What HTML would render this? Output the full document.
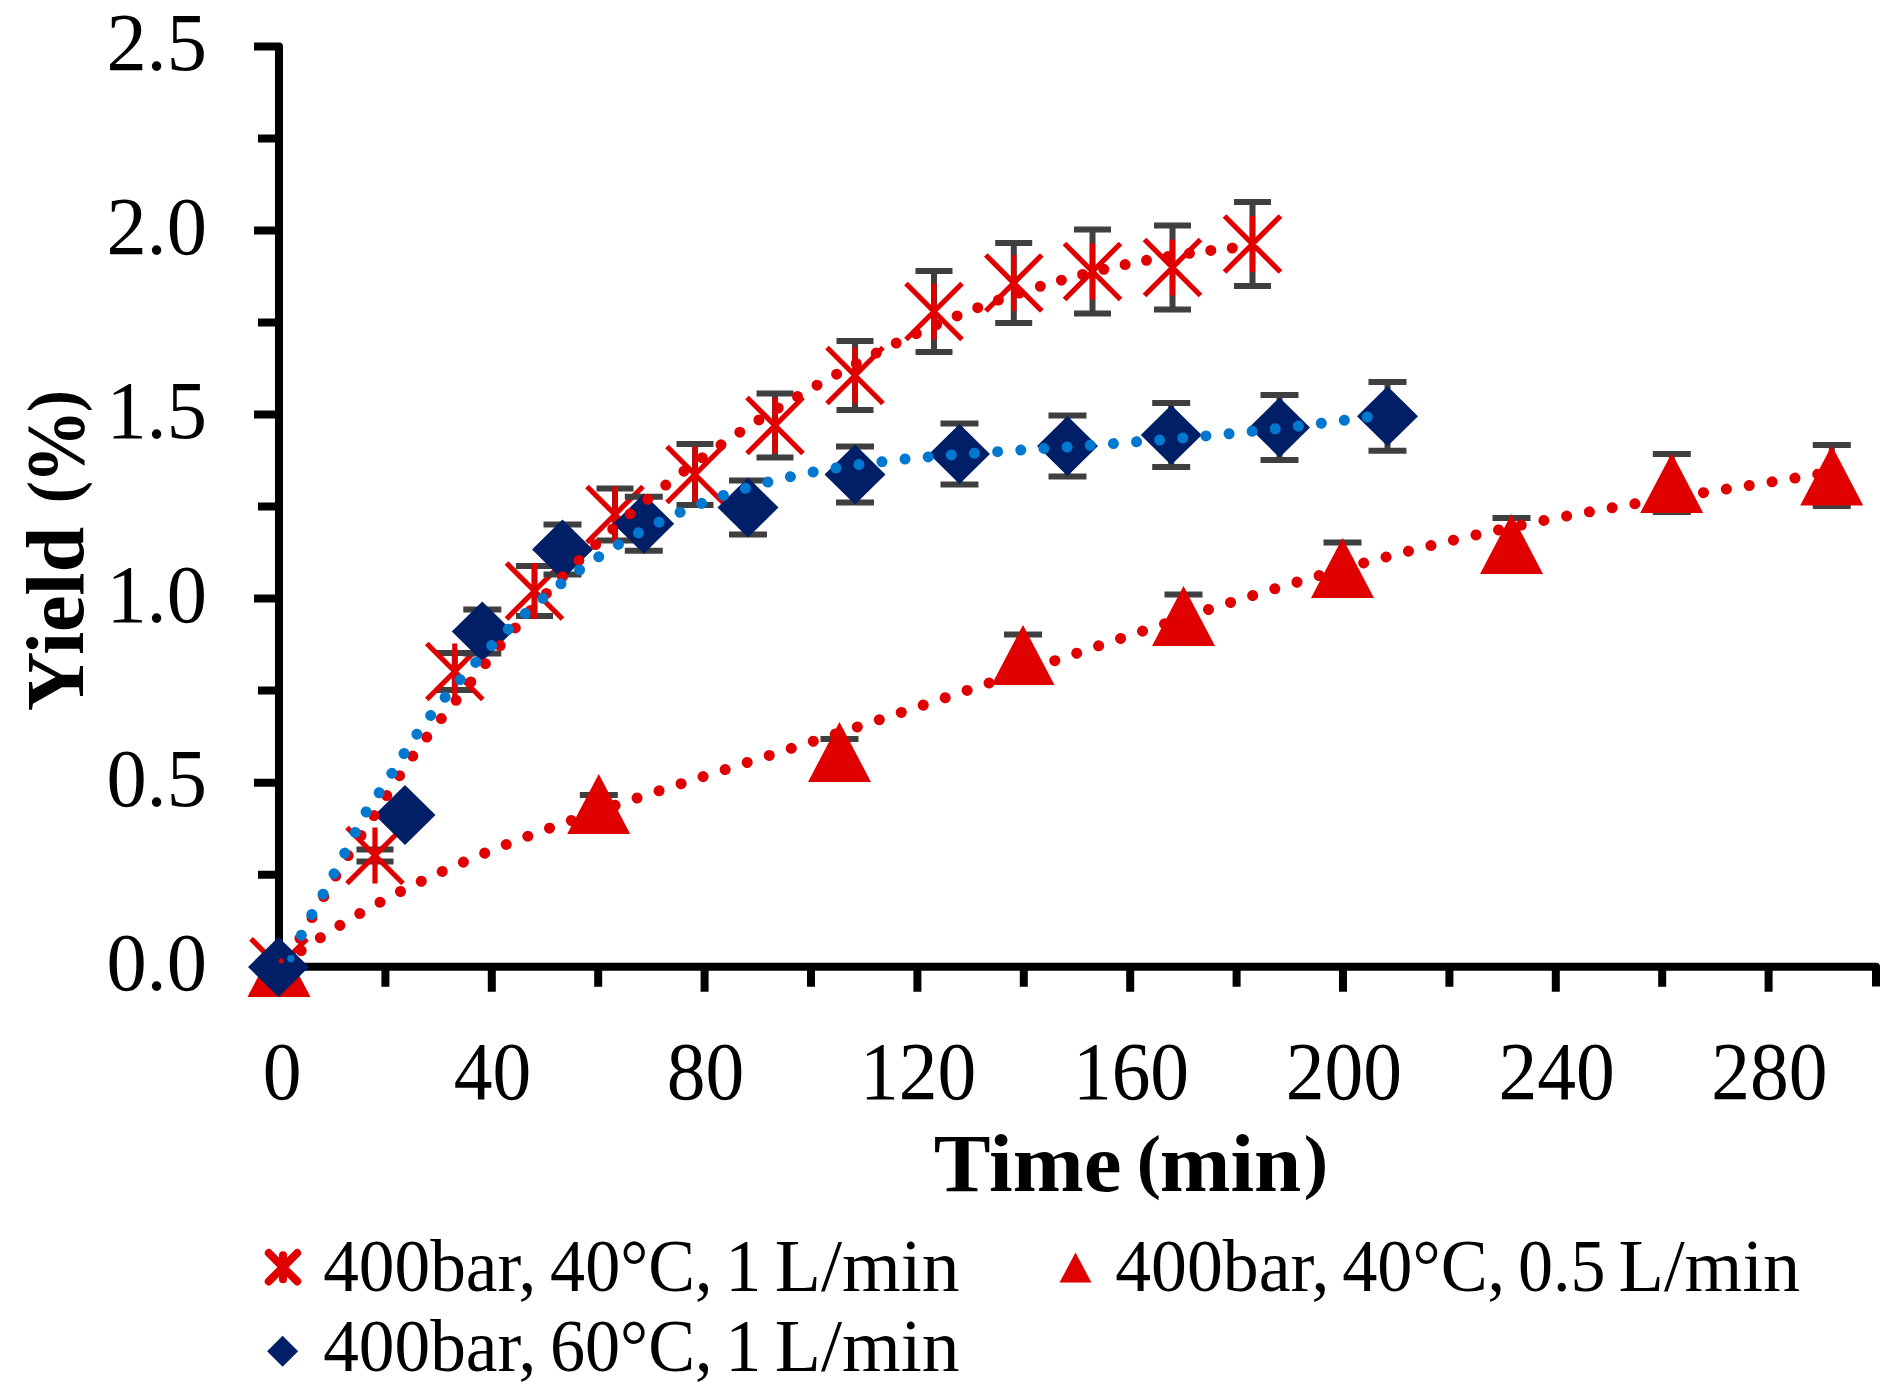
<!DOCTYPE html>
<html><head><meta charset="utf-8"><title>Yield vs Time</title>
<style>html,body{margin:0;padding:0;background:#fff}svg{display:block}</style></head>
<body>
<svg width="1904" height="1397" viewBox="0 0 1904 1397">
<rect width="1904" height="1397" fill="#fff"/>
<path d="M254 46.4 H279 V966.8 H1876 V986.5 M254 966.8 H279 M258 874.8 H279 M254 782.7 H279 M258 690.6 H279 M254 598.6 H279 M258 506.5 H279 M254 414.5 H279 M258 322.4 H279 M254 230.4 H279 M258 138.4 H279 M385.4 966.8 V986.8 M491.8 966.8 V991.8 M598.2 966.8 V986.8 M704.6 966.8 V991.8 M811.0 966.8 V986.8 M917.4 966.8 V991.8 M1023.8 966.8 V986.8 M1130.2 966.8 V991.8 M1236.6 966.8 V986.8 M1343.0 966.8 V991.8 M1449.4 966.8 V986.8 M1555.8 966.8 V991.8 M1662.2 966.8 V986.8 M1768.6 966.8 V991.8" fill="none" stroke="#000" stroke-width="8" stroke-linejoin="round"/>
<path d="M375.0 849.5 V861.5 M356.5 849.5 h37 M356.5 861.5 h37 M454.8 653.0 V690.0 M436.3 653.0 h37 M436.3 690.0 h37 M534.5 566.0 V616.0 M516.0 566.0 h37 M516.0 616.0 h37 M615.0 488.5 V540.5 M596.5 488.5 h37 M596.5 540.5 h37 M695.0 443.9 V505.1 M676.5 443.9 h37 M676.5 505.1 h37 M775.0 393.5 V457.5 M756.5 393.5 h37 M756.5 457.5 h37 M855.0 341.0 V410.0 M836.5 341.0 h37 M836.5 410.0 h37 M934.0 271.0 V352.0 M915.5 271.0 h37 M915.5 352.0 h37 M1013.8 243.0 V323.0 M995.2 243.0 h37 M995.2 323.0 h37 M1092.5 229.5 V313.5 M1074.0 229.5 h37 M1074.0 313.5 h37 M1172.5 225.5 V309.5 M1154.0 225.5 h37 M1154.0 309.5 h37 M1252.5 202.0 V286.0 M1234.0 202.0 h37 M1234.0 286.0 h37" fill="none" stroke="#3f3f3f" stroke-width="6"/>
<path d="M251.0 938.8 L307.0 994.8 M307.0 938.8 L251.0 994.8 M279.0 938.8 V994.8 M347.0 827.5 L403.0 883.5 M403.0 827.5 L347.0 883.5 M375.0 827.5 V883.5 M426.8 643.5 L482.8 699.5 M482.8 643.5 L426.8 699.5 M454.8 643.5 V699.5 M506.5 563.0 L562.5 619.0 M562.5 563.0 L506.5 619.0 M534.5 563.0 V619.0 M587.0 486.5 L643.0 542.5 M643.0 486.5 L587.0 542.5 M615.0 486.5 V542.5 M667.0 446.5 L723.0 502.5 M723.0 446.5 L667.0 502.5 M695.0 446.5 V502.5 M747.0 397.5 L803.0 453.5 M803.0 397.5 L747.0 453.5 M775.0 397.5 V453.5 M827.0 347.5 L883.0 403.5 M883.0 347.5 L827.0 403.5 M855.0 347.5 V403.5 M906.0 283.5 L962.0 339.5 M962.0 283.5 L906.0 339.5 M934.0 283.5 V339.5 M985.8 255.0 L1041.8 311.0 M1041.8 255.0 L985.8 311.0 M1013.8 255.0 V311.0 M1064.5 243.5 L1120.5 299.5 M1120.5 243.5 L1064.5 299.5 M1092.5 243.5 V299.5 M1144.5 239.5 L1200.5 295.5 M1200.5 239.5 L1144.5 295.5 M1172.5 239.5 V295.5 M1224.5 216.0 L1280.5 272.0 M1280.5 216.0 L1224.5 272.0 M1252.5 216.0 V272.0" fill="none" stroke="#e00000" stroke-width="5.2"/>
<path d="M598.8 795.0 V813.0 M579.8 795.0 h38 M579.8 813.0 h38 M839.5 739.0 V765.0 M820.5 739.0 h38 M820.5 765.0 h38 M1023.0 634.5 V675.5 M1004.0 634.5 h38 M1004.0 675.5 h38 M1183.5 594.5 V637.5 M1164.5 594.5 h38 M1164.5 637.5 h38 M1342.5 542.5 V593.5 M1323.5 542.5 h38 M1323.5 593.5 h38 M1511.5 518.0 V570.0 M1492.5 518.0 h38 M1492.5 570.0 h38 M1671.8 454.0 V512.0 M1652.8 454.0 h38 M1652.8 512.0 h38 M1831.8 445.0 V506.0 M1812.8 445.0 h38 M1812.8 506.0 h38" fill="none" stroke="#3f3f3f" stroke-width="6"/>
<path d="M279.0 937.0 L310.5 997.0 H247.5 Z M598.8 774.0 L630.2 834.0 H567.2 Z M839.5 722.0 L871.0 782.0 H808.0 Z M1023.0 625.0 L1054.5 685.0 H991.5 Z M1183.5 586.0 L1215.0 646.0 H1152.0 Z M1342.5 538.0 L1374.0 598.0 H1311.0 Z M1511.5 514.0 L1543.0 574.0 H1480.0 Z M1671.8 453.0 L1703.2 513.0 H1640.2 Z M1831.8 445.5 L1863.2 505.5 H1800.2 Z" fill="#e00000"/>
<path d="M482.3 609.5 V653.5 M463.3 609.5 h38 M463.3 653.5 h38 M562.5 524.5 V574.5 M543.5 524.5 h38 M543.5 574.5 h38 M643.8 496.8 V550.8 M624.8 496.8 h38 M624.8 550.8 h38 M748.0 480.5 V534.5 M729.0 480.5 h38 M729.0 534.5 h38 M855.0 446.5 V502.5 M836.0 446.5 h38 M836.0 502.5 h38 M959.5 423.5 V484.5 M940.5 423.5 h38 M940.5 484.5 h38 M1067.5 415.4 V476.6 M1048.5 415.4 h38 M1048.5 476.6 h38 M1171.2 403.0 V467.0 M1152.2 403.0 h38 M1152.2 467.0 h38 M1279.5 395.0 V460.0 M1260.5 395.0 h38 M1260.5 460.0 h38 M1387.5 381.9 V450.7 M1368.5 381.9 h38 M1368.5 450.7 h38" fill="none" stroke="#3f3f3f" stroke-width="6"/>
<path d="M278.5 937.0 L309.0 967.0 L278.5 997.0 L248.0 967.0 Z M405.0 785.0 L435.5 815.0 L405.0 845.0 L374.5 815.0 Z M482.3 601.5 L512.8 631.5 L482.3 661.5 L451.8 631.5 Z M562.5 519.5 L593.0 549.5 L562.5 579.5 L532.0 549.5 Z M643.8 493.8 L674.2 523.8 L643.8 553.8 L613.2 523.8 Z M748.0 477.5 L778.5 507.5 L748.0 537.5 L717.5 507.5 Z M855.0 444.5 L885.5 474.5 L855.0 504.5 L824.5 474.5 Z M959.5 424.0 L990.0 454.0 L959.5 484.0 L929.0 454.0 Z M1067.5 416.0 L1098.0 446.0 L1067.5 476.0 L1037.0 446.0 Z M1171.2 405.0 L1201.8 435.0 L1171.2 465.0 L1140.8 435.0 Z M1279.5 397.5 L1310.0 427.5 L1279.5 457.5 L1249.0 427.5 Z M1387.5 386.3 L1418.0 416.3 L1387.5 446.3 L1357.0 416.3 Z" fill="#001f66"/>
<path d="M299.9 938.3h0.01 M312.0 917.5h0.01 M323.7 896.6h0.01 M335.7 876.0h0.01 M348.2 855.6h0.01 M361.0 835.5h0.01 M374.0 815.6h0.01 M386.8 795.6h0.01 M399.6 775.7h0.01 M412.8 756.1h0.01 M426.8 737.1h0.01 M441.3 718.6h0.01 M456.1 700.3h0.01 M470.8 682.0h0.01 M485.4 663.7h0.01 M500.2 645.6h0.01 M515.3 627.9h0.01 M530.7 610.4h0.01 M546.4 593.4h0.01 M562.5 576.7h0.01 M578.9 560.4h0.01 M595.6 544.5h0.01 M612.7 529.0h0.01 M630.1 513.9h0.01 M647.7 499.3h0.01 M665.7 485.1h0.01 M683.9 471.2h0.01 M702.3 457.8h0.01 M721.0 444.8h0.01 M739.8 432.2h0.01 M758.9 419.9h0.01 M778.2 408.0h0.01 M797.5 396.5h0.01 M817.0 385.2h0.01 M836.6 374.2h0.01 M856.3 363.5h0.01 M876.2 353.1h0.01 M896.2 343.1h0.01 M916.3 333.6h0.01 M936.6 324.5h0.01 M957.1 315.9h0.01 M977.7 307.7h0.01 M998.4 300.1h0.01 M1019.3 293.0h0.01 M1040.3 286.3h0.01 M1061.4 280.2h0.01 M1082.6 274.5h0.01 M1103.8 269.3h0.01 M1125.1 264.6h0.01 M1146.5 260.3h0.01 M1167.9 256.6h0.01 M1189.4 253.3h0.01 M1210.8 250.4h0.01 M1232.3 248.0h0.01" stroke="#e00000" stroke-width="11" stroke-linecap="round" fill="none"/>
<path d="M291.7 957.4 L293.7 956.0 L295.7 954.5 L297.7 953.1 L299.7 951.7 L301.7 950.3 L303.7 948.9 L305.7 947.6 L307.7 946.2 L309.7 944.8 L311.7 943.5 L313.7 942.1 L315.7 940.8 L317.7 939.5 L319.7 938.2 L321.7 936.8 L323.7 935.5 L325.7 934.3 L327.7 933.0 L329.7 931.7 L331.7 930.4 L333.7 929.2 L335.7 927.9 L337.7 926.7 L339.7 925.5 L341.7 924.2 L343.7 923.0 L345.7 921.8 L347.7 920.6 L349.7 919.4 L351.7 918.2 L353.7 917.1 L355.7 915.9 L357.7 914.7 L359.7 913.6 L361.7 912.4 L363.7 911.3 L365.7 910.1 L367.7 909.0 L369.7 907.9 L371.7 906.8 L373.7 905.7 L375.7 904.6 L377.7 903.5 L379.7 902.4 L381.7 901.3 L383.7 900.3 L385.7 899.2 L387.7 898.1 L389.7 897.1 L391.7 896.0 L393.7 895.0 L395.7 893.9 L397.7 892.9 L399.7 891.9 L401.7 890.9 L403.7 889.9 L405.7 888.9 L407.7 887.9 L409.7 886.9 L411.7 885.9 L413.7 884.9 L415.7 883.9 L417.7 882.9 L419.7 882.0 L421.7 881.0 L423.7 880.1 L425.7 879.1 L427.7 878.2 L429.7 877.2 L431.7 876.3 L433.7 875.4 L435.7 874.4 L437.7 873.5 L439.7 872.6 L441.7 871.7 L443.7 870.8 L445.7 869.9 L447.7 869.0 L449.7 868.1 L451.7 867.2 L453.7 866.3 L455.7 865.4 L457.7 864.6 L459.7 863.7 L461.7 862.8 L463.7 862.0 L465.7 861.1 L467.7 860.2 L469.7 859.4 L471.7 858.6 L473.7 857.7 L475.7 856.9 L477.7 856.0 L479.7 855.2 L481.7 854.4 L483.7 853.6 L485.7 852.7 L487.7 851.9 L489.7 851.1 L491.7 850.3 L493.7 849.5 L495.7 848.7 L497.7 847.9 L499.7 847.1 L501.7 846.3 L503.7 845.5 L505.7 844.7 L507.7 843.9 L509.7 843.2 L511.7 842.4 L513.7 841.6 L515.7 840.8 L517.7 840.1 L519.7 839.3 L521.7 838.5 L523.7 837.8 L525.7 837.0 L527.7 836.3 L529.7 835.5 L531.7 834.8 L533.7 834.0 L535.7 833.3 L537.7 832.5 L539.7 831.8 L541.7 831.1 L543.7 830.3 L545.7 829.6 L547.7 828.9 L549.7 828.1 L551.7 827.4 L553.7 826.7 L555.7 826.0 L557.7 825.2 L559.7 824.5 L561.7 823.8 L563.7 823.1 L565.7 822.4 L567.7 821.7 L569.7 821.0 L571.7 820.3 L573.7 819.6 L575.7 818.9 L577.7 818.2 L579.7 817.5 L581.7 816.8 L583.7 816.1 L585.7 815.4 L587.7 814.7 L589.7 814.0 L591.7 813.3 L593.7 812.6 L595.7 811.9 L597.7 811.3 L599.7 810.6 L601.7 809.9 L603.7 809.2 L605.7 808.5 L607.7 807.9 L609.7 807.2 L611.7 806.5 L613.7 805.8 L615.7 805.2 L617.7 804.5 L619.7 803.8 L621.7 803.2 L623.7 802.5 L625.7 801.8 L627.7 801.2 L629.7 800.5 L631.7 799.8 L633.7 799.2 L635.7 798.5 L637.7 797.8 L639.7 797.2 L641.7 796.5 L643.7 795.9 L645.7 795.2 L647.7 794.6 L649.7 793.9 L651.7 793.2 L653.7 792.6 L655.7 791.9 L657.7 791.3 L659.7 790.6 L661.7 790.0 L663.7 789.3 L665.7 788.7 L667.7 788.0 L669.7 787.4 L671.7 786.7 L673.7 786.1 L675.7 785.4 L677.7 784.8 L679.7 784.2 L681.7 783.5 L683.7 782.9 L685.7 782.2 L687.7 781.6 L689.7 780.9 L691.7 780.3 L693.7 779.6 L695.7 779.0 L697.7 778.4 L699.7 777.7 L701.7 777.1 L703.7 776.4 L705.7 775.8 L707.7 775.1 L709.7 774.5 L711.7 773.9 L713.7 773.2 L715.7 772.6 L717.7 771.9 L719.7 771.3 L721.7 770.7 L723.7 770.0 L725.7 769.4 L727.7 768.7 L729.7 768.1 L731.7 767.5 L733.7 766.8 L735.7 766.2 L737.7 765.5 L739.7 764.9 L741.7 764.3 L743.7 763.6 L745.7 763.0 L747.7 762.3 L749.7 761.7 L751.7 761.1 L753.7 760.4 L755.7 759.8 L757.7 759.1 L759.7 758.5 L761.7 757.9 L763.7 757.2 L765.7 756.6 L767.7 755.9 L769.7 755.3 L771.7 754.6 L773.7 754.0 L775.7 753.4 L777.7 752.7 L779.7 752.1 L781.7 751.4 L783.7 750.8 L785.7 750.1 L787.7 749.5 L789.7 748.9 L791.7 748.2 L793.7 747.6 L795.7 746.9 L797.7 746.3 L799.7 745.6 L801.7 745.0 L803.7 744.3 L805.7 743.7 L807.7 743.1 L809.7 742.4 L811.7 741.8 L813.7 741.1 L815.7 740.5 L817.7 739.8 L819.7 739.2 L821.7 738.5 L823.7 737.9 L825.7 737.2 L827.7 736.6 L829.7 735.9 L831.7 735.3 L833.7 734.6 L835.7 734.0 L837.7 733.3 L839.7 732.7 L841.7 732.0 L843.7 731.4 L845.7 730.7 L847.7 730.1 L849.7 729.4 L851.7 728.8 L853.7 728.1 L855.7 727.4 L857.7 726.8 L859.7 726.1 L861.7 725.5 L863.7 724.8 L865.7 724.2 L867.7 723.5 L869.7 722.9 L871.7 722.2 L873.7 721.5 L875.7 720.9 L877.7 720.2 L879.7 719.6 L881.7 718.9 L883.7 718.2 L885.7 717.6 L887.7 716.9 L889.7 716.3 L891.7 715.6 L893.7 714.9 L895.7 714.3 L897.7 713.6 L899.7 712.9 L901.7 712.3 L903.7 711.6 L905.7 711.0 L907.7 710.3 L909.7 709.6 L911.7 709.0 L913.7 708.3 L915.7 707.6 L917.7 707.0 L919.7 706.3 L921.7 705.6 L923.7 705.0 L925.7 704.3 L927.7 703.6 L929.7 703.0 L931.7 702.3 L933.7 701.6 L935.7 700.9 L937.7 700.3 L939.7 699.6 L941.7 698.9 L943.7 698.3 L945.7 697.6 L947.7 696.9 L949.7 696.2 L951.7 695.6 L953.7 694.9 L955.7 694.2 L957.7 693.6 L959.7 692.9 L961.7 692.2 L963.7 691.5 L965.7 690.9 L967.7 690.2 L969.7 689.5 L971.7 688.8 L973.7 688.2 L975.7 687.5 L977.7 686.8 L979.7 686.1 L981.7 685.5 L983.7 684.8 L985.7 684.1 L987.7 683.4 L989.7 682.8 L991.7 682.1 L993.7 681.4 L995.7 680.7 L997.7 680.0 L999.7 679.4 L1001.7 678.7 L1003.7 678.0 L1005.7 677.3 L1007.7 676.7 L1009.7 676.0 L1011.7 675.3 L1013.7 674.6 L1015.7 673.9 L1017.7 673.3 L1019.7 672.6 L1021.7 671.9 L1023.7 671.2 L1025.7 670.5 L1027.7 669.9 L1029.7 669.2 L1031.7 668.5 L1033.7 667.8 L1035.7 667.1 L1037.7 666.5 L1039.7 665.8 L1041.7 665.1 L1043.7 664.4 L1045.7 663.8 L1047.7 663.1 L1049.7 662.4 L1051.7 661.7 L1053.7 661.0 L1055.7 660.4 L1057.7 659.7 L1059.7 659.0 L1061.7 658.3 L1063.7 657.6 L1065.7 657.0 L1067.7 656.3 L1069.7 655.6 L1071.7 654.9 L1073.7 654.3 L1075.7 653.6 L1077.7 652.9 L1079.7 652.2 L1081.7 651.5 L1083.7 650.9 L1085.7 650.2 L1087.7 649.5 L1089.7 648.8 L1091.7 648.2 L1093.7 647.5 L1095.7 646.8 L1097.7 646.1 L1099.7 645.5 L1101.7 644.8 L1103.7 644.1 L1105.7 643.4 L1107.7 642.8 L1109.7 642.1 L1111.7 641.4 L1113.7 640.8 L1115.7 640.1 L1117.7 639.4 L1119.7 638.7 L1121.7 638.1 L1123.7 637.4 L1125.7 636.7 L1127.7 636.1 L1129.7 635.4 L1131.7 634.7 L1133.7 634.1 L1135.7 633.4 L1137.7 632.7 L1139.7 632.1 L1141.7 631.4 L1143.7 630.7 L1145.7 630.1 L1147.7 629.4 L1149.7 628.7 L1151.7 628.1 L1153.7 627.4 L1155.7 626.7 L1157.7 626.1 L1159.7 625.4 L1161.7 624.8 L1163.7 624.1 L1165.7 623.4 L1167.7 622.8 L1169.7 622.1 L1171.7 621.5 L1173.7 620.8 L1175.7 620.2 L1177.7 619.5 L1179.7 618.8 L1181.7 618.2 L1183.7 617.5 L1185.7 616.9 L1187.7 616.2 L1189.7 615.6 L1191.7 614.9 L1193.7 614.3 L1195.7 613.6 L1197.7 613.0 L1199.7 612.3 L1201.7 611.7 L1203.7 611.1 L1205.7 610.4 L1207.7 609.8 L1209.7 609.1 L1211.7 608.5 L1213.7 607.8 L1215.7 607.2 L1217.7 606.6 L1219.7 605.9 L1221.7 605.3 L1223.7 604.6 L1225.7 604.0 L1227.7 603.4 L1229.7 602.7 L1231.7 602.1 L1233.7 601.5 L1235.7 600.9 L1237.7 600.2 L1239.7 599.6 L1241.7 599.0 L1243.7 598.3 L1245.7 597.7 L1247.7 597.1 L1249.7 596.5 L1251.7 595.9 L1253.7 595.2 L1255.7 594.6 L1257.7 594.0 L1259.7 593.4 L1261.7 592.8 L1263.7 592.1 L1265.7 591.5 L1267.7 590.9 L1269.7 590.3 L1271.7 589.7 L1273.7 589.1 L1275.7 588.5 L1277.7 587.9 L1279.7 587.3 L1281.7 586.7 L1283.7 586.1 L1285.7 585.5 L1287.7 584.9 L1289.7 584.3 L1291.7 583.7 L1293.7 583.1 L1295.7 582.5 L1297.7 581.9 L1299.7 581.3 L1301.7 580.7 L1303.7 580.1 L1305.7 579.5 L1307.7 578.9 L1309.7 578.3 L1311.7 577.8 L1313.7 577.2 L1315.7 576.6 L1317.7 576.0 L1319.7 575.4 L1321.7 574.8 L1323.7 574.3 L1325.7 573.7 L1327.7 573.1 L1329.7 572.5 L1331.7 572.0 L1333.7 571.4 L1335.7 570.8 L1337.7 570.3 L1339.7 569.7 L1341.7 569.1 L1343.7 568.6 L1345.7 568.0 L1347.7 567.5 L1349.7 566.9 L1351.7 566.4 L1353.7 565.8 L1355.7 565.2 L1357.7 564.7 L1359.7 564.1 L1361.7 563.6 L1363.7 563.0 L1365.7 562.5 L1367.7 562.0 L1369.7 561.4 L1371.7 560.9 L1373.7 560.3 L1375.7 559.8 L1377.7 559.3 L1379.7 558.7 L1381.7 558.2 L1383.7 557.7 L1385.7 557.1 L1387.7 556.6 L1389.7 556.1 L1391.7 555.6 L1393.7 555.0 L1395.7 554.5 L1397.7 554.0 L1399.7 553.5 L1401.7 553.0 L1403.7 552.4 L1405.7 551.9 L1407.7 551.4 L1409.7 550.9 L1411.7 550.4 L1413.7 549.9 L1415.7 549.4 L1417.7 548.9 L1419.7 548.4 L1421.7 547.9 L1423.7 547.4 L1425.7 546.9 L1427.7 546.4 L1429.7 545.9 L1431.7 545.4 L1433.7 544.9 L1435.7 544.4 L1437.7 543.9 L1439.7 543.5 L1441.7 543.0 L1443.7 542.5 L1445.7 542.0 L1447.7 541.5 L1449.7 541.0 L1451.7 540.6 L1453.7 540.1 L1455.7 539.6 L1457.7 539.2 L1459.7 538.7 L1461.7 538.2 L1463.7 537.8 L1465.7 537.3 L1467.7 536.8 L1469.7 536.4 L1471.7 535.9 L1473.7 535.5 L1475.7 535.0 L1477.7 534.6 L1479.7 534.1 L1481.7 533.7 L1483.7 533.2 L1485.7 532.8 L1487.7 532.3 L1489.7 531.9 L1491.7 531.4 L1493.7 531.0 L1495.7 530.6 L1497.7 530.1 L1499.7 529.7 L1501.7 529.2 L1503.7 528.8 L1505.7 528.4 L1507.7 528.0 L1509.7 527.5 L1511.7 527.1 L1513.7 526.7 L1515.7 526.3 L1517.7 525.8 L1519.7 525.4 L1521.7 525.0 L1523.7 524.6 L1525.7 524.2 L1527.7 523.8 L1529.7 523.4 L1531.7 523.0 L1533.7 522.5 L1535.7 522.1 L1537.7 521.7 L1539.7 521.3 L1541.7 520.9 L1543.7 520.5 L1545.7 520.1 L1547.7 519.7 L1549.7 519.3 L1551.7 519.0 L1553.7 518.6 L1555.7 518.2 L1557.7 517.8 L1559.7 517.4 L1561.7 517.0 L1563.7 516.6 L1565.7 516.2 L1567.7 515.9 L1569.7 515.5 L1571.7 515.1 L1573.7 514.7 L1575.7 514.4 L1577.7 514.0 L1579.7 513.6 L1581.7 513.2 L1583.7 512.9 L1585.7 512.5 L1587.7 512.1 L1589.7 511.8 L1591.7 511.4 L1593.7 511.0 L1595.7 510.7 L1597.7 510.3 L1599.7 510.0 L1601.7 509.6 L1603.7 509.2 L1605.7 508.9 L1607.7 508.5 L1609.7 508.2 L1611.7 507.8 L1613.7 507.5 L1615.7 507.1 L1617.7 506.8 L1619.7 506.4 L1621.7 506.1 L1623.7 505.7 L1625.7 505.4 L1627.7 505.0 L1629.7 504.7 L1631.7 504.4 L1633.7 504.0 L1635.7 503.7 L1637.7 503.3 L1639.7 503.0 L1641.7 502.7 L1643.7 502.3 L1645.7 502.0 L1647.7 501.7 L1649.7 501.3 L1651.7 501.0 L1653.7 500.7 L1655.7 500.4 L1657.7 500.0 L1659.7 499.7 L1661.7 499.4 L1663.7 499.0 L1665.7 498.7 L1667.7 498.4 L1669.7 498.1 L1671.7 497.7 L1673.7 497.4 L1675.7 497.1 L1677.7 496.8 L1679.7 496.5 L1681.7 496.1 L1683.7 495.8 L1685.7 495.5 L1687.7 495.2 L1689.7 494.9 L1691.7 494.5 L1693.7 494.2 L1695.7 493.9 L1697.7 493.6 L1699.7 493.3 L1701.7 493.0 L1703.7 492.6 L1705.7 492.3 L1707.7 492.0 L1709.7 491.7 L1711.7 491.4 L1713.7 491.1 L1715.7 490.8 L1717.7 490.4 L1719.7 490.1 L1721.7 489.8 L1723.7 489.5 L1725.7 489.2 L1727.7 488.9 L1729.7 488.6 L1731.7 488.2 L1733.7 487.9 L1735.7 487.6 L1737.7 487.3 L1739.7 487.0 L1741.7 486.7 L1743.7 486.3 L1745.7 486.0 L1747.7 485.7 L1749.7 485.4 L1751.7 485.1 L1753.7 484.8 L1755.7 484.4 L1757.7 484.1 L1759.7 483.8 L1761.7 483.5 L1763.7 483.2 L1765.7 482.9 L1767.7 482.5 L1769.7 482.2 L1771.7 481.9 L1773.7 481.6 L1775.7 481.2 L1777.7 480.9 L1779.7 480.6 L1781.7 480.3 L1783.7 479.9 L1785.7 479.6 L1787.7 479.3 L1789.7 478.9 L1791.7 478.6 L1793.7 478.3 L1795.7 478.0 L1797.7 477.6 L1799.7 477.3 L1801.7 476.9 L1803.7 476.6 L1805.7 476.3 L1807.7 475.9 L1809.7 475.6 L1811.7 475.2 L1813.7 474.9 L1815.7 474.5 L1817.7 474.2 L1819.7 473.8 L1821.7 473.5 L1823.7 473.1 L1825.7 472.8 L1827.7 472.4 L1829.7 472.1 L1831.7 471.7" stroke="#e00000" stroke-width="11" stroke-linecap="round" stroke-dasharray="0.01 23.14" stroke-dashoffset="11.57" fill="none"/>
<path d="M296.5 945.8 L298.5 941.4 L300.5 937.0 L302.5 932.8 L304.5 928.7 L306.5 924.7 L308.5 920.8 L310.5 917.1 L312.5 913.3 L314.5 909.7 L316.5 906.0 L318.5 902.4 L320.5 898.8 L322.5 895.2 L324.5 891.5 L326.5 887.9 L328.5 884.2 L330.5 880.4 L332.5 876.7 L334.5 872.9 L336.5 869.0 L338.5 865.2 L340.5 861.4 L342.5 857.5 L344.5 853.6 L346.5 849.7 L348.5 845.8 L350.5 841.8 L352.5 837.9 L354.5 834.0 L356.5 830.0 L358.5 826.1 L360.5 822.2 L362.5 818.4 L364.5 814.7 L366.5 811.2 L368.5 808.0 L370.5 804.9 L372.5 802.0 L374.5 799.2 L376.5 796.4 L378.5 793.6 L380.5 790.8 L382.5 787.9 L384.5 784.9 L386.5 781.8 L388.5 778.7 L390.5 775.5 L392.5 772.2 L394.5 769.0 L396.5 765.7 L398.5 762.5 L400.5 759.2 L402.5 756.0 L404.5 752.8 L406.5 749.7 L408.5 746.6 L410.5 743.6 L412.5 740.6 L414.5 737.7 L416.5 734.8 L418.5 731.9 L420.5 729.1 L422.5 726.4 L424.5 723.6 L426.5 720.9 L428.5 718.3 L430.5 715.7 L432.5 713.1 L434.5 710.5 L436.5 708.0 L438.5 705.5 L440.5 703.0 L442.5 700.6 L444.5 698.1 L446.5 695.7 L448.5 693.3 L450.5 690.9 L452.5 688.6 L454.5 686.2 L456.5 683.9 L458.5 681.6 L460.5 679.3 L462.5 677.0 L464.5 674.8 L466.5 672.5 L468.5 670.3 L470.5 668.1 L472.5 665.9 L474.5 663.7 L476.5 661.5 L478.5 659.4 L480.5 657.2 L482.5 655.1 L484.5 653.0 L486.5 650.9 L488.5 648.9 L490.5 646.8 L492.5 644.8 L494.5 642.8 L496.5 640.7 L498.5 638.8 L500.5 636.8 L502.5 634.8 L504.5 632.9 L506.5 630.9 L508.5 629.0 L510.5 627.1 L512.5 625.2 L514.5 623.3 L516.5 621.5 L518.5 619.6 L520.5 617.8 L522.5 616.0 L524.5 614.2 L526.5 612.4 L528.5 610.6 L530.5 608.9 L532.5 607.1 L534.5 605.4 L536.5 603.7 L538.5 602.0 L540.5 600.3 L542.5 598.6 L544.5 596.9 L546.5 595.3 L548.5 593.7 L550.5 592.0 L552.5 590.4 L554.5 588.8 L556.5 587.2 L558.5 585.7 L560.5 584.1 L562.5 582.6 L564.5 581.0 L566.5 579.5 L568.5 578.0 L570.5 576.5 L572.5 575.0 L574.5 573.6 L576.5 572.1 L578.5 570.7 L580.5 569.2 L582.5 567.8 L584.5 566.4 L586.5 565.0 L588.5 563.6 L590.5 562.2 L592.5 560.9 L594.5 559.5 L596.5 558.2 L598.5 556.9 L600.5 555.6 L602.5 554.3 L604.5 553.0 L606.5 551.7 L608.5 550.4 L610.5 549.2 L612.5 547.9 L614.5 546.7 L616.5 545.5 L618.5 544.3 L620.5 543.1 L622.5 541.9 L624.5 540.7 L626.5 539.5 L628.5 538.4 L630.5 537.2 L632.5 536.1 L634.5 535.0 L636.5 533.9 L638.5 532.8 L640.5 531.7 L642.5 530.6 L644.5 529.5 L646.5 528.5 L648.5 527.4 L650.5 526.4 L652.5 525.4 L654.5 524.4 L656.5 523.4 L658.5 522.4 L660.5 521.4 L662.5 520.4 L664.5 519.5 L666.5 518.5 L668.5 517.6 L670.5 516.6 L672.5 515.7 L674.5 514.8 L676.5 513.9 L678.5 513.0 L680.5 512.1 L682.5 511.2 L684.5 510.4 L686.5 509.5 L688.5 508.7 L690.5 507.8 L692.5 507.0 L694.5 506.2 L696.5 505.4 L698.5 504.6 L700.5 503.8 L702.5 503.0 L704.5 502.2 L706.5 501.5 L708.5 500.7 L710.5 500.0 L712.5 499.2 L714.5 498.5 L716.5 497.8 L718.5 497.1 L720.5 496.4 L722.5 495.7 L724.5 495.0 L726.5 494.3 L728.5 493.6 L730.5 493.0 L732.5 492.3 L734.5 491.7 L736.5 491.1 L738.5 490.4 L740.5 489.8 L742.5 489.2 L744.5 488.6 L746.5 488.0 L748.5 487.4 L750.5 486.8 L752.5 486.2 L754.5 485.7 L756.5 485.1 L758.5 484.6 L760.5 484.0 L762.5 483.5 L764.5 483.0 L766.5 482.4 L768.5 481.9 L770.5 481.4 L772.5 480.9 L774.5 480.4 L776.5 479.9 L778.5 479.4 L780.5 478.9 L782.5 478.5 L784.5 478.0 L786.5 477.6 L788.5 477.1 L790.5 476.7 L792.5 476.2 L794.5 475.8 L796.5 475.4 L798.5 474.9 L800.5 474.5 L802.5 474.1 L804.5 473.7 L806.5 473.3 L808.5 472.9 L810.5 472.5 L812.5 472.1 L814.5 471.8 L816.5 471.4 L818.5 471.0 L820.5 470.7 L822.5 470.3 L824.5 469.9 L826.5 469.6 L828.5 469.2 L830.5 468.9 L832.5 468.6 L834.5 468.2 L836.5 467.9 L838.5 467.6 L840.5 467.3 L842.5 467.0 L844.5 466.7 L846.5 466.4 L848.5 466.1 L850.5 465.8 L852.5 465.5 L854.5 465.2 L856.5 464.9 L858.5 464.6 L860.5 464.4 L862.5 464.1 L864.5 463.8 L866.5 463.6 L868.5 463.3 L870.5 463.0 L872.5 462.8 L874.5 462.5 L876.5 462.3 L878.5 462.0 L880.5 461.8 L882.5 461.6 L884.5 461.3 L886.5 461.1 L888.5 460.9 L890.5 460.6 L892.5 460.4 L894.5 460.2 L896.5 460.0 L898.5 459.8 L900.5 459.6 L902.5 459.3 L904.5 459.1 L906.5 458.9 L908.5 458.7 L910.5 458.5 L912.5 458.3 L914.5 458.1 L916.5 458.0 L918.5 457.8 L920.5 457.6 L922.5 457.4 L924.5 457.2 L926.5 457.0 L928.5 456.9 L930.5 456.7 L932.5 456.5 L934.5 456.3 L936.5 456.2 L938.5 456.0 L940.5 455.8 L942.5 455.7 L944.5 455.5 L946.5 455.3 L948.5 455.2 L950.5 455.0 L952.5 454.9 L954.5 454.7 L956.5 454.6 L958.5 454.4 L960.5 454.3 L962.5 454.1 L964.5 454.0 L966.5 453.8 L968.5 453.7 L970.5 453.5 L972.5 453.4 L974.5 453.2 L976.5 453.1 L978.5 452.9 L980.5 452.8 L982.5 452.7 L984.5 452.5 L986.5 452.4 L988.5 452.2 L990.5 452.1 L992.5 452.0 L994.5 451.8 L996.5 451.7 L998.5 451.6 L1000.5 451.4 L1002.5 451.3 L1004.5 451.2 L1006.5 451.0 L1008.5 450.9 L1010.5 450.8 L1012.5 450.6 L1014.5 450.5 L1016.5 450.4 L1018.5 450.2 L1020.5 450.1 L1022.5 450.0 L1024.5 449.8 L1026.5 449.7 L1028.5 449.6 L1030.5 449.4 L1032.5 449.3 L1034.5 449.2 L1036.5 449.0 L1038.5 448.9 L1040.5 448.8 L1042.5 448.6 L1044.5 448.5 L1046.5 448.3 L1048.5 448.2 L1050.5 448.1 L1052.5 447.9 L1054.5 447.8 L1056.5 447.7 L1058.5 447.5 L1060.5 447.4 L1062.5 447.2 L1064.5 447.1 L1066.5 447.0 L1068.5 446.8 L1070.5 446.7 L1072.5 446.6 L1074.5 446.4 L1076.5 446.3 L1078.5 446.1 L1080.5 446.0 L1082.5 445.8 L1084.5 445.7 L1086.5 445.6 L1088.5 445.4 L1090.5 445.3 L1092.5 445.1 L1094.5 445.0 L1096.5 444.8 L1098.5 444.7 L1100.5 444.5 L1102.5 444.4 L1104.5 444.3 L1106.5 444.1 L1108.5 444.0 L1110.5 443.8 L1112.5 443.7 L1114.5 443.5 L1116.5 443.4 L1118.5 443.2 L1120.5 443.1 L1122.5 442.9 L1124.5 442.8 L1126.5 442.6 L1128.5 442.4 L1130.5 442.3 L1132.5 442.1 L1134.5 442.0 L1136.5 441.8 L1138.5 441.7 L1140.5 441.5 L1142.5 441.4 L1144.5 441.2 L1146.5 441.0 L1148.5 440.9 L1150.5 440.7 L1152.5 440.5 L1154.5 440.4 L1156.5 440.2 L1158.5 440.1 L1160.5 439.9 L1162.5 439.7 L1164.5 439.6 L1166.5 439.4 L1168.5 439.2 L1170.5 439.1 L1172.5 438.9 L1174.5 438.7 L1176.5 438.5 L1178.5 438.4 L1180.5 438.2 L1182.5 438.0 L1184.5 437.8 L1186.5 437.7 L1188.5 437.5 L1190.5 437.3 L1192.5 437.1 L1194.5 437.0 L1196.5 436.8 L1198.5 436.6 L1200.5 436.4 L1202.5 436.2 L1204.5 436.0 L1206.5 435.9 L1208.5 435.7 L1210.5 435.5 L1212.5 435.3 L1214.5 435.1 L1216.5 434.9 L1218.5 434.7 L1220.5 434.5 L1222.5 434.3 L1224.5 434.1 L1226.5 434.0 L1228.5 433.8 L1230.5 433.6 L1232.5 433.4 L1234.5 433.2 L1236.5 433.0 L1238.5 432.8 L1240.5 432.6 L1242.5 432.3 L1244.5 432.1 L1246.5 431.9 L1248.5 431.7 L1250.5 431.5 L1252.5 431.3 L1254.5 431.1 L1256.5 430.9 L1258.5 430.7 L1260.5 430.5 L1262.5 430.2 L1264.5 430.0 L1266.5 429.8 L1268.5 429.6 L1270.5 429.4 L1272.5 429.1 L1274.5 428.9 L1276.5 428.7 L1278.5 428.5 L1280.5 428.2 L1282.5 428.0 L1284.5 427.8 L1286.5 427.5 L1288.5 427.3 L1290.5 427.1 L1292.5 426.8 L1294.5 426.6 L1296.5 426.4 L1298.5 426.1 L1300.5 425.9 L1302.5 425.6 L1304.5 425.4 L1306.5 425.1 L1308.5 424.9 L1310.5 424.6 L1312.5 424.4 L1314.5 424.1 L1316.5 423.9 L1318.5 423.6 L1320.5 423.4 L1322.5 423.1 L1324.5 422.9 L1326.5 422.6 L1328.5 422.3 L1330.5 422.1 L1332.5 421.8 L1334.5 421.5 L1336.5 421.3 L1338.5 421.0 L1340.5 420.7 L1342.5 420.5 L1344.5 420.2 L1346.5 419.9 L1348.5 419.6 L1350.5 419.4 L1352.5 419.1 L1354.5 418.8 L1356.5 418.5 L1358.5 418.2 L1360.5 417.9 L1362.5 417.6 L1364.5 417.4 L1366.5 417.1 L1368.5 416.8 L1370.5 416.5 L1372.5 416.2 L1374.5 415.9 L1376.5 415.6 L1378.5 415.3 L1380.5 415.0 L1382.5 414.6 L1384.5 414.3 L1386.5 414.0" stroke="#0078d0" stroke-width="11" stroke-linecap="round" stroke-dasharray="0.01 23.21" stroke-dashoffset="11.61" fill="none"/>
<circle cx="281.3" cy="960.8" r="2.6" fill="#e00000"/><circle cx="290.8" cy="958.6" r="3.6" fill="#0078d0"/>
<text transform="translate(207 990.4) scale(0.805 0.817)" text-anchor="end" font-size="100" font-family="Liberation Serif, serif">0.0</text>
<text transform="translate(207 806.3) scale(0.805 0.817)" text-anchor="end" font-size="100" font-family="Liberation Serif, serif">0.5</text>
<text transform="translate(207 622.2) scale(0.805 0.817)" text-anchor="end" font-size="100" font-family="Liberation Serif, serif">1.0</text>
<text transform="translate(207 438.1) scale(0.805 0.817)" text-anchor="end" font-size="100" font-family="Liberation Serif, serif">1.5</text>
<text transform="translate(207 254.0) scale(0.805 0.817)" text-anchor="end" font-size="100" font-family="Liberation Serif, serif">2.0</text>
<text transform="translate(207 69.9) scale(0.805 0.817)" text-anchor="end" font-size="100" font-family="Liberation Serif, serif">2.5</text>
<text transform="translate(282.0 1098.8) scale(0.775 0.82)" text-anchor="middle" font-size="100" font-family="Liberation Serif, serif">0</text>
<text transform="translate(492.6 1098.8) scale(0.775 0.82)" text-anchor="middle" font-size="100" font-family="Liberation Serif, serif">40</text>
<text transform="translate(705.4 1098.8) scale(0.775 0.82)" text-anchor="middle" font-size="100" font-family="Liberation Serif, serif">80</text>
<text transform="translate(918.2 1098.8) scale(0.775 0.82)" text-anchor="middle" font-size="100" font-family="Liberation Serif, serif">120</text>
<text transform="translate(1131.0 1098.8) scale(0.775 0.82)" text-anchor="middle" font-size="100" font-family="Liberation Serif, serif">160</text>
<text transform="translate(1343.8 1098.8) scale(0.775 0.82)" text-anchor="middle" font-size="100" font-family="Liberation Serif, serif">200</text>
<text transform="translate(1556.6 1098.8) scale(0.775 0.82)" text-anchor="middle" font-size="100" font-family="Liberation Serif, serif">240</text>
<text transform="translate(1769.4 1098.8) scale(0.775 0.82)" text-anchor="middle" font-size="100" font-family="Liberation Serif, serif">280</text>
<g>
<text transform="translate(933.80 1190.75) scale(0.8519 0.8220)" font-size="100" font-weight="700" font-family="Liberation Serif, serif">Time</text>
<text transform="translate(1136.69 1184.53) scale(0.7269 0.7178)" font-size="100" font-weight="700" font-family="Liberation Serif, serif">(</text>
<text transform="translate(1159.76 1190.75) scale(0.8481 0.8220)" font-size="100" font-weight="700" font-family="Liberation Serif, serif">min</text>
<text transform="translate(1303.81 1184.53) scale(0.7308 0.7178)" font-size="100" font-weight="700" font-family="Liberation Serif, serif">)</text>
</g>
<g>
<text transform="translate(83.00 711.25) rotate(-90) scale(0.8231 0.8220)" font-size="100" font-weight="700" font-family="Liberation Serif, serif">Yield</text>
<text transform="translate(76.93 503.15) rotate(-90) scale(0.6615 0.7178)" font-size="100" font-weight="700" font-family="Liberation Serif, serif">(</text>
<text transform="translate(83.00 483.41) rotate(-90) scale(0.7407 0.8220)" font-size="100" font-weight="700" font-family="Liberation Serif, serif">%</text>
<text transform="translate(76.93 411.96) rotate(-90) scale(0.6538 0.7178)" font-size="100" font-weight="700" font-family="Liberation Serif, serif">)</text>
</g>
<text transform="translate(323.17 1290.80) scale(0.7134 0.7480)" font-size="100" font-weight="400" font-family="Liberation Serif, serif">400bar,</text>
<text transform="translate(550.10 1290.80) scale(0.7009 0.7480)" font-size="100" font-weight="400" font-family="Liberation Serif, serif">40°C,</text>
<text transform="translate(725.19 1290.80) scale(0.7229 0.7480)" font-size="100" font-weight="400" font-family="Liberation Serif, serif">1</text>
<text transform="translate(774.73 1290.80) scale(0.7567 0.7480)" font-size="100" font-weight="400" font-family="Liberation Serif, serif">L/min</text>
<text transform="translate(323.17 1370.80) scale(0.7134 0.7480)" font-size="100" font-weight="400" font-family="Liberation Serif, serif">400bar,</text>
<text transform="translate(549.99 1370.80) scale(0.7014 0.7480)" font-size="100" font-weight="400" font-family="Liberation Serif, serif">60°C,</text>
<text transform="translate(725.19 1370.80) scale(0.7229 0.7480)" font-size="100" font-weight="400" font-family="Liberation Serif, serif">1</text>
<text transform="translate(774.73 1370.80) scale(0.7567 0.7480)" font-size="100" font-weight="400" font-family="Liberation Serif, serif">L/min</text>
<text transform="translate(1115.27 1290.80) scale(0.7172 0.7480)" font-size="100" font-weight="400" font-family="Liberation Serif, serif">400bar,</text>
<text transform="translate(1342.19 1290.80) scale(0.7036 0.7480)" font-size="100" font-weight="400" font-family="Liberation Serif, serif">40°C,</text>
<text transform="translate(1518.10 1290.80) scale(0.7000 0.7480)" font-size="100" font-weight="400" font-family="Liberation Serif, serif">0.5</text>
<text transform="translate(1618.47 1290.80) scale(0.7438 0.7480)" font-size="100" font-weight="400" font-family="Liberation Serif, serif">L/min</text>
<path d="M268.8 1253.0 L297.2 1281.4 M297.2 1253.0 L268.8 1281.4 M283.0 1255.2 V1279.2" stroke="#e00000" stroke-width="8" stroke-linecap="round" fill="none"/>
<path d="M282.6 1335.8 L298.1 1351.3 L282.6 1366.8 L267.1 1351.3 Z" fill="#001f66"/>
<path d="M1075.5 1252.6 L1091.5 1282.6 H1059.5 Z" fill="#e00000"/>
</svg>
</body></html>
